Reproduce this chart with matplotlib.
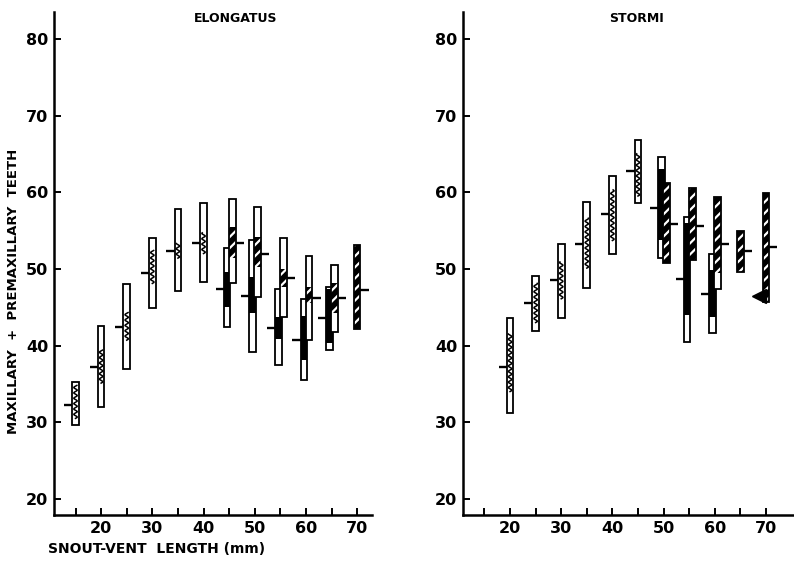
import numpy as np
import matplotlib
matplotlib.use("Agg")
import matplotlib.pyplot as plt
from matplotlib.patches import Rectangle

plt.rcParams["font.family"] = ["DejaVu Sans"]
plt.rcParams["hatch.linewidth"] = 1.6

# ---- ELONGATUS: tooth counts by snout-vent length class ----
elong_svl = [15, 20, 25, 30, 35, 40, 45, 45, 50, 50, 55, 55, 60, 60, 65, 65, 70]
elong_fill = ["wavy"] * 6 + ["black", "hatch"] * 5 + ["hatch"]
elong_min = [29.6, 32.0, 37.0, 44.9, 47.1, 48.3, 42.4, 48.1, 39.2, 46.3,
             37.4, 43.7, 35.5, 40.7, 39.4, 41.8, 42.1]
elong_max = [35.2, 42.6, 48.0, 54.0, 57.8, 58.6, 52.7, 59.1, 53.7, 58.1,
             47.4, 54.0, 46.1, 51.7, 47.6, 50.5, 53.1]
elong_mean = [32.2, 37.2, 42.4, 49.4, 52.3, 53.4, 47.4, 53.4, 46.5, 52.0,
              42.3, 48.8, 40.7, 46.2, 43.6, 46.2, 47.3]
elong_seg_lo = [30.5, 35.1, 40.7, 48.1, 51.4, 52.0, 45.0, 51.4, 44.2, 50.3,
                40.9, 47.6, 38.1, 45.5, 40.3, 44.2, 42.1]
elong_seg_hi = [34.8, 39.4, 44.3, 52.4, 53.3, 54.7, 49.6, 55.5, 49.0, 54.2,
                43.7, 50.0, 43.8, 47.6, 47.4, 48.1, 53.1]

# ---- STORMI ----
storm_svl = [20, 25, 30, 35, 40, 45, 50, 50, 55, 55, 60, 60, 65, 70]
storm_fill = ["wavy"] * 6 + ["black", "hatch"] * 3 + ["hatch", "hatch"]
storm_min = [31.2, 41.9, 43.6, 47.5, 51.9, 58.6, 51.4, 50.8, 40.5, 51.2,
             41.6, 47.4, 49.6, 45.7]
storm_max = [43.6, 49.1, 53.3, 58.7, 62.1, 66.8, 64.6, 61.2, 56.7, 60.5,
             52.0, 59.4, 55.0, 59.9]
storm_mean = [37.2, 45.5, 48.6, 53.2, 57.2, 62.8, 58.0, 55.9, 48.7, 55.6,
              46.7, 53.3, 52.3, 52.9]
storm_seg_lo = [34.0, 43.0, 46.1, 50.1, 53.7, 59.5, 53.7, 50.8, 44.0, 51.2,
                43.7, 49.4, 49.6, 45.7]
storm_seg_hi = [41.5, 48.1, 50.9, 56.6, 60.3, 65.0, 63.0, 61.2, 56.0, 60.5,
                49.8, 59.4, 55.0, 59.9]
# single extreme specimen in the largest STORMI class
storm_extra_svl = 70
storm_extra_teeth = 46.4

y_ticks = [20, 30, 40, 50, 60, 70, 80]
x_ticks = [15, 20, 25, 30, 35, 40, 45, 50, 55, 60, 65, 70]

BAR_W = 1.3      # mm
TICK_LEN = 1.6   # mm
LW = 1.3


def draw_bars(ax, svl, fill, lo, hi, mean, seg_lo, seg_hi):
    for i, s in enumerate(svl):
        paired = svl.count(s) > 1
        if paired and fill[i] == "black":
            xc = s - 0.4
        elif paired and fill[i] == "hatch":
            xc = s + 0.6
        else:
            xc = s
        x0 = xc - BAR_W / 2
        z = 3 + i
        ax.add_patch(Rectangle((x0, lo[i]), BAR_W, hi[i] - lo[i],
                               facecolor="white", edgecolor="none", zorder=z))
        if fill[i] == "black":
            ax.add_patch(Rectangle((x0, seg_lo[i]), BAR_W, seg_hi[i] - seg_lo[i],
                                   facecolor="black", edgecolor="none", zorder=z))
        elif fill[i] == "hatch":
            ax.add_patch(Rectangle((x0, seg_lo[i]), BAR_W, seg_hi[i] - seg_lo[i],
                                   facecolor="black", edgecolor="white",
                                   hatch="///", linewidth=0, zorder=z))
        else:
            yy = np.linspace(seg_lo[i], seg_hi[i], 200)
            xx = xc + 0.33 * np.sin(2 * np.pi * (yy - seg_lo[i]) / 0.7)
            ax.plot(xx, yy, color="black", lw=1.1, zorder=z)
        ax.add_patch(Rectangle((x0, lo[i]), BAR_W, hi[i] - lo[i],
                               facecolor="none", edgecolor="black",
                               linewidth=LW, zorder=z + 0.5))
        if fill[i] == "hatch":
            ax.plot([x0 + BAR_W, x0 + BAR_W + TICK_LEN], [mean[i], mean[i]],
                    color="black", lw=1.7, solid_capstyle="butt", zorder=z + 0.5)
        else:
            ax.plot([x0 - TICK_LEN, x0], [mean[i], mean[i]],
                    color="black", lw=1.7, solid_capstyle="butt", zorder=z + 0.5)


def style_axes(ax, xmax):
    ax.set_xlim(10.8, xmax)
    ax.set_ylim(17.9, 83.5)
    for side in ("top", "right"):
        ax.spines[side].set_visible(False)
    for side in ("left", "bottom"):
        ax.spines[side].set_linewidth(1.8)
    ax.set_yticks(y_ticks)
    ax.set_yticklabels([str(v) for v in y_ticks])
    ax.set_xticks(x_ticks)
    ax.set_xticklabels([str(v) if v % 10 == 0 else "" for v in x_ticks])
    ax.tick_params(axis="both", direction="in", width=1.4, length=5,
                   labelsize=11.5, pad=4)
    for lab in ax.get_xticklabels() + ax.get_yticklabels():
        lab.set_fontweight("bold")


fig = plt.figure(figsize=(7.94, 5.67), dpi=100)
ax1 = fig.add_axes([54 / 794, 52 / 567, 318 / 794, 503 / 567])
ax2 = fig.add_axes([463 / 794, 52 / 567, 331 / 794, 503 / 567])

draw_bars(ax1, elong_svl, elong_fill, elong_min, elong_max, elong_mean,
          elong_seg_lo, elong_seg_hi)
draw_bars(ax2, storm_svl, storm_fill, storm_min, storm_max, storm_mean,
          storm_seg_lo, storm_seg_hi)
ax2.plot([storm_extra_svl - 1.3], [storm_extra_teeth], marker="<",
         markersize=10, color="black", zorder=30)

style_axes(ax1, 72.9)
style_axes(ax2, 75.5)

fig.text(236 / 794, 1 - 18 / 567, "ELONGATUS", ha="center", va="center",
         fontsize=9, fontweight="semibold")
fig.text(636 / 794, 1 - 18 / 567, "STORMI", ha="center", va="center",
         fontsize=9, fontweight="semibold")
fig.text(14 / 794, 1 - 291 / 567, "MAXILLARY  +  PREMAXILLARY  TEETH",
         rotation=90, ha="center", va="center", fontsize=9.5, fontweight="bold")
fig.text(48 / 794, 1 - 549 / 567, "SNOUT-VENT  LENGTH (mm)", ha="left",
         va="center", fontsize=10, fontweight="bold")

fig.savefig("out.png", dpi=100)
